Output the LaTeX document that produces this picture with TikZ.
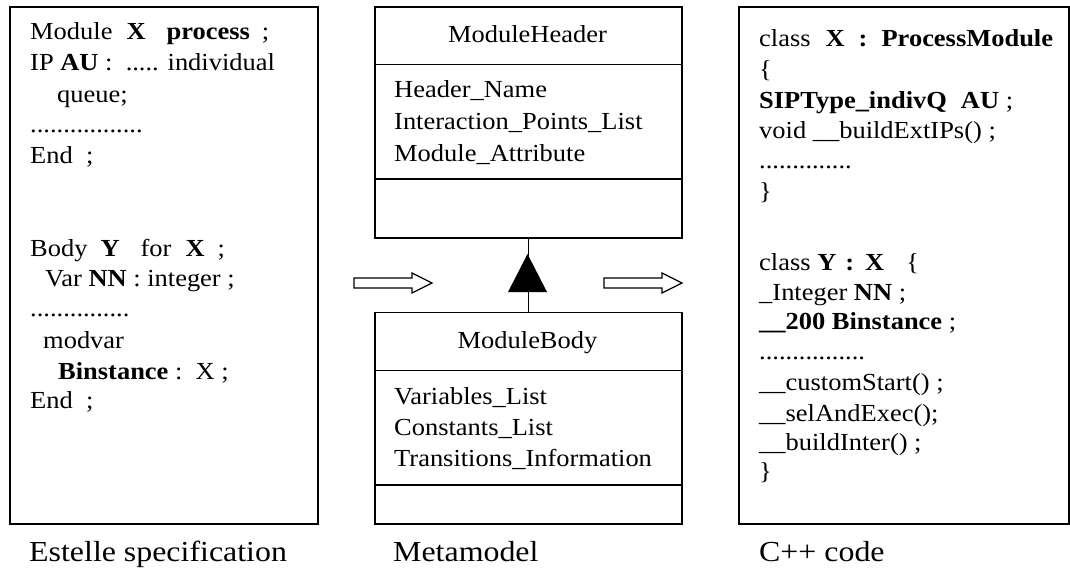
\documentclass[tikz,border=0pt]{standalone}
\usepackage{fontspec}
\setmainfont{Liberation Serif}[FakeStretch=1.08]
\newfontfamily\captionfont{Liberation Serif}[FakeStretch=1.1]

\begin{document}
\begin{tikzpicture}[x=1pt,y=-1pt,
  box/.style={draw,line width=1.6pt,inner sep=0pt,anchor=north west},
  code/.style={anchor=base west,inner sep=0pt,font=\fontsize{24.5}{31}\selectfont},
  classname/.style={anchor=base,inner sep=0pt,font=\fontsize{24.5}{31}\selectfont},
  caption/.style={anchor=base west,inner sep=0pt,font=\captionfont\fontsize{29}{34}\selectfont},
  divider/.style={line width=1.6pt},
  hollow/.style={draw,line width=1.3pt,fill=white,line join=miter},
  generalization/.style={line width=1.4pt},
]
\useasboundingbox (0,0) rectangle (1070,569);

% ---------------- Estelle specification ----------------
\node[box,minimum width=308pt,minimum height=516.5pt] (spec) at (9,6.5) {};
\node[code] (s1)  at (30,40)    {Module\hspace{14pt}\textbf{X}\hspace{21pt}\textbf{process}\hspace{12pt};};
\node[code] (s2)  at (30,71)    {IP \textbf{AU} :\ \ ..... individual};
\node[code] (s3)  at (57,103)   {queue;};
\node[code] (s4)  at (30,132.5) {.................};
\node[code] (s5)  at (30,163.5) {End\ \ ;};
\node[code] (s6)  at (30,256)   {Body\hspace{13pt}\textbf{Y}\hspace{21pt}for\hspace{14pt}\textbf{X}\hspace{13pt};};
\node[code] (s7)  at (45,287)   {Var \textbf{NN} : integer ;};
\node[code] (s8)  at (30,316)   {...............};
\node[code] (s9)  at (43,348)   {modvar};
\node[code] (s10) at (58,379.5) {\textbf{Binstance} :\ \ X ;};
\node[code] (s11) at (30,408.5) {End\ \ ;};

% ---------------- Metamodel ----------------
\node[box,minimum width=307pt,minimum height=230.5pt] (hdr) at (374,6.5) {};
\draw[divider] (hdr.west |- 0,64.5) -- (hdr.east |- 0,64.5);
\draw[divider] (hdr.west |- 0,179) -- (hdr.east |- 0,179);
\node[classname] (hname) at (527.5,43) {ModuleHeader};
\node[code] (h1) at (394,98)    {Header\_Name};
\node[code] (h2) at (394,129.5) {Interaction\_Points\_List};
\node[code] (h3) at (394,161.5) {Module\_Attribute};

\node[box,minimum width=307pt,minimum height=211.5pt] (body) at (374,311.5) {};
\draw[divider] (body.west |- 0,370.5) -- (body.east |- 0,370.5);
\draw[divider] (body.west |- 0,485) -- (body.east |- 0,485);
\node[classname] (bname) at (527.5,348.5) {ModuleBody};
\node[code] (b1) at (394,404)   {Variables\_List};
\node[code] (b2) at (394,435)   {Constants\_List};
\node[code] (b3) at (394,466.5) {Transitions\_Information};

% generalization: ModuleBody inherits from ModuleHeader
\draw[generalization] (body.north) -- (hdr.south);
\fill (527.5,254) -- (547,292) -- (508,292) -- cycle;

% ---------------- transformation arrows ----------------
\path[hollow] (354,278) -- (412,278) -- (412,273) -- (432,283)
  -- (412,293) -- (412,288) -- (354,288) -- cycle;
\path[hollow] (604,278) -- (662,278) -- (662,273) -- (682,283)
  -- (662,293) -- (662,288) -- (604,288) -- cycle;

% ---------------- C++ code ----------------
\node[box,minimum width=330pt,minimum height=516.5pt] (cpp) at (738,6.5) {};
\node[code] (c1)  at (759,47)  {class\hspace{15pt}\textbf{X}\hspace{14pt}\textbf{:}\hspace{14pt}\textbf{ProcessModule}};
\node[code] (c2)  at (759,78)  {\{};
\node[code] (c3)  at (759,109) {\textbf{SIPType\_indivQ}\hspace{14pt}\textbf{AU} ;};
\node[code] (c4)  at (759,139) {void \_\_buildExtIPs() ;};
\node[code] (c5)  at (759,169) {..............};
\node[code] (c6)  at (759,200) {\}};
\node[code] (c7)  at (759,270.5) {class \textbf{Y}\hspace{9pt}\textbf{:}\hspace{11pt}\textbf{X}\hspace{22pt}\{};
\node[code] (c8)  at (759,300) {\_Integer \textbf{NN} ;};
\node[code] (c9)  at (759,329) {\textbf{\_\_200 Binstance} ;};
\node[code] (c10) at (759,359.5) {................};
\node[code] (c11) at (759,390) {\_\_customStart() ;};
\node[code] (c12) at (759,421) {\_\_selAndExec();};
\node[code] (c13) at (759,450) {\_\_buildInter() ;};
\node[code] (c14) at (759,479) {\}};

% ---------------- captions ----------------
\node[caption] (capspec) at (29,561)  {Estelle specification};
\node[caption] (capmeta) at (393,561) {Metamodel};
\node[caption] (capcpp)  at (759,561) {C++ code};
\end{tikzpicture}
\end{document}
